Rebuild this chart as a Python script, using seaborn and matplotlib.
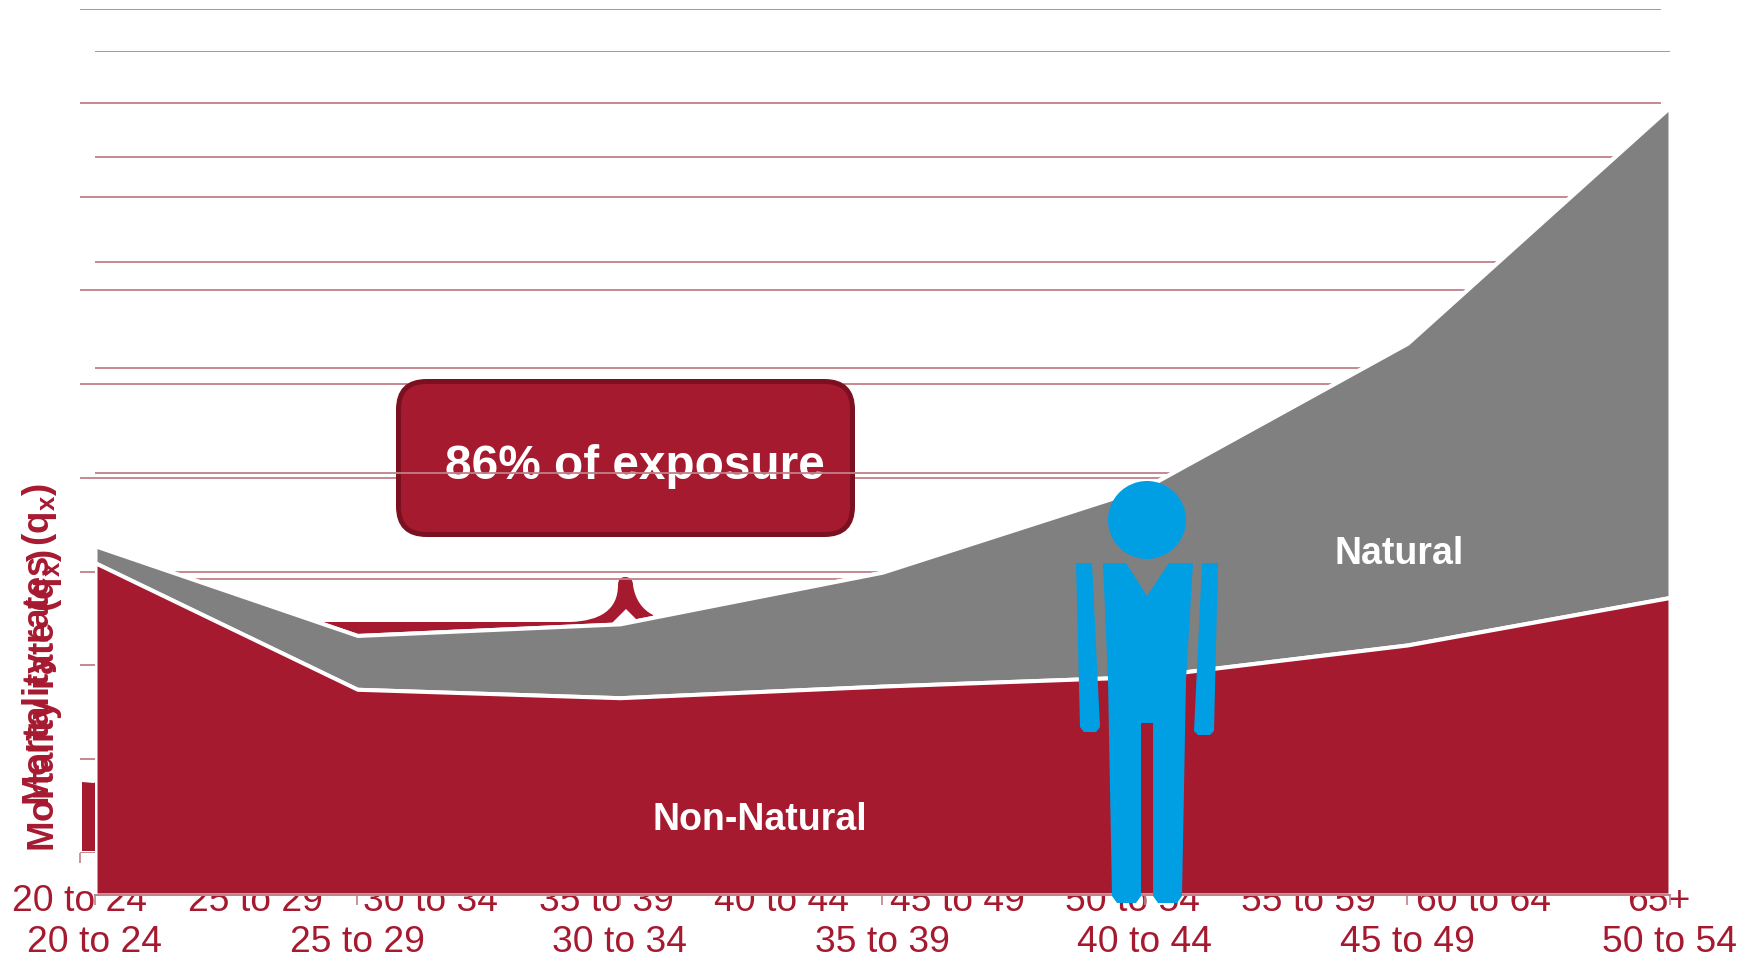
import pandas as pd
import matplotlib
matplotlib.use('Agg')
import matplotlib.pyplot as plt
import seaborn as sns
from matplotlib.patches import Circle, FancyBboxPatch, PathPatch, Polygon
from matplotlib.path import Path

# Data
front_ages = ['20 to 24', '25 to 29', '30 to 34', '35 to 39', '40 to 44', '45 to 49', '50 to 54']
back_ages = ['20 to 24', '25 to 29', '30 to 34', '35 to 39', '40 to 44',
             '45 to 49', '50 to 54', '55 to 59', '60 to 64', '65+']
non_natural = [3.15, 1.95, 1.87, 1.98, 2.07, 2.37, 2.82]
total = [3.31, 2.46, 2.57, 3.06, 3.86, 5.23, 7.47]
front_grid = [0, 1, 2, 3, 4, 5, 6, 7, 8]
back_grid = [0, 1, 2, 3, 4, 5, 6, 7, 8, 9]

RED = '#A61A30'
DARK_RED = '#7B1120'
GREY = '#808080'
BLUE = '#009FE3'
ROSE = '#C08088'
W, H = 1758, 966

sns.set_theme(style='white')
plt.rcParams['font.family'] = ['Liberation Sans', 'DejaVu Sans']
plt.rcParams['mathtext.fontset'] = 'custom'
plt.rcParams['mathtext.bf'] = 'Liberation Sans:bold'


def px_axes(fig, x0, x1, top, bottom, z):
    a = fig.add_axes([x0 / W, 1 - bottom / H, (x1 - x0) / W, (bottom - top) / H], zorder=z)
    a.patch.set_alpha(0)
    return a


def style_age_axis(a, ages, pad):
    a.set_xticks(range(len(ages)))
    a.set_xticklabels(ages, fontsize=26.8, color=RED)
    a.tick_params(axis='x', bottom=True, length=7.2, width=1.2, color=ROSE, pad=pad)
    a.set_yticklabels([])
    a.tick_params(axis='y', left=False)
    a.grid(axis='y', color=ROSE, linewidth=1.3)
    a.grid(axis='x', visible=False)
    a.set_axisbelow(True)
    a.set_xlabel('')
    a.set_ylabel('')


fig = plt.figure(figsize=(W / 100, H / 100), dpi=100)

# Chart sitting behind, only its grid and tick labels still show
back = px_axes(fig, 80, 1661, 9, 853, 1)
back.set_xlim(0, 9.012)
back.set_ylim(0, 9)
back.set_yticks(back_grid)
style_age_axis(back, back_ages, 15)
sns.despine(ax=back, left=True, bottom=True)

# Callout and brace, in pixel coordinates
mid = px_axes(fig, 0, W, 0, H, 2)
mid.set_xlim(0, W)
mid.set_ylim(H, 0)
mid.axis('off')
mid.add_patch(Polygon([(82, 851), (82, 782), (94, 783), (315, 622), (315, 851)],
                      closed=True, fc=RED, ec='none'))
brace = Path([(315, 622), (570, 622),
              (600, 621), (618, 610), (618, 585),
              (618, 577), (625, 577),
              (633, 577), (633, 585),
              (635, 600), (643, 610), (653, 615),
              (654, 640), (635, 618), (626, 609), (613, 622), (600, 640), (315, 640), (315, 622)],
             [Path.MOVETO, Path.LINETO,
              Path.CURVE4, Path.CURVE4, Path.CURVE4,
              Path.CURVE3, Path.CURVE3,
              Path.CURVE3, Path.CURVE3,
              Path.CURVE4, Path.CURVE4, Path.CURVE4,
              Path.LINETO, Path.LINETO, Path.LINETO, Path.LINETO, Path.LINETO, Path.LINETO,
              Path.CLOSEPOLY])
mid.add_patch(PathPatch(brace, fc=RED, ec='none'))
mid.add_patch(FancyBboxPatch((426.5, 409.5), 398, 97, boxstyle='round,pad=28,rounding_size=28',
                             fc=RED, ec=DARK_RED, lw=3.6))
mid.text(635, 466.5, '86% of exposure', color='white', fontsize=34.4, fontweight='bold',
         ha='center', va='center')

# Front chart: stacked areas
front = px_axes(fig, 95, 1670, 51, 895, 3)
pos = list(range(len(front_ages)))
front.fill_between(pos, 0, total, facecolor=GREY, edgecolor='white', linewidth=2.9)
front.fill_between(pos, 0, non_natural, facecolor=RED, edgecolor='white', linewidth=2.9)
tops = pd.DataFrame({'pos': pos * 2,
                     'rate': total + non_natural,
                     'cause': ['Total'] * 7 + ['Non-Natural'] * 7})
sns.lineplot(data=tops, x='pos', y='rate', hue='cause', palette=['white', 'white'],
             linewidth=2.2, legend=False, ax=front)
front.set_xlim(0, 6)
front.set_ylim(0, 8)
front.set_yticks(front_grid)
style_age_axis(front, front_ages, 14.5)
sns.despine(ax=front, left=True)
front.spines['bottom'].set_color(ROSE)
front.spines['bottom'].set_linewidth(1.4)
front.spines['bottom'].set_zorder(5)

# Person icon and labels on top
top = px_axes(fig, 0, W, 0, H, 4)
top.set_xlim(0, W)
top.set_ylim(H, 0)
top.axis('off')
top.add_patch(Circle((1147, 520), 39, fc=BLUE, ec='none'))
body = [(1103, 563), (1126, 563), (1147, 596), (1169, 563), (1193, 563), (1186, 680), (1182, 896),
        (1177, 903), (1158, 903), (1153, 896), (1153, 723), (1141, 723), (1141, 896), (1136, 903),
        (1117, 903), (1112, 896), (1108, 680)]
top.add_patch(Polygon(body, closed=True, fc=BLUE, ec='none'))
top.add_patch(Polygon([(1076, 563), (1092, 563), (1100, 727), (1096, 732), (1084, 732), (1080, 727)],
                      closed=True, fc=BLUE, ec='none'))
top.add_patch(Polygon([(1202, 563), (1218, 563), (1214, 731), (1210, 735), (1198, 735), (1194, 731)],
                      closed=True, fc=BLUE, ec='none'))
top.text(760, 819.5, 'Non-Natural', color='white', fontsize=27, fontweight='bold', ha='center', va='center')
top.text(1399, 553.5, 'Natural', color='white', fontsize=27, fontweight='bold', ha='center', va='center')

# The two y labels lie over each other in the source
top.text(45, 852, r'Mortality rate (q$_{\mathbf{x}}$)', color=RED, fontsize=26.4, fontweight='bold',
         rotation=90, ha='center', va='bottom')
top.text(40, 806, r'Mortality rates (q$_{\mathbf{x}}$)', color=RED, fontsize=26.4, fontweight='bold',
         rotation=90, ha='center', va='bottom')

fig.savefig('out.png', dpi=100, facecolor='white')
